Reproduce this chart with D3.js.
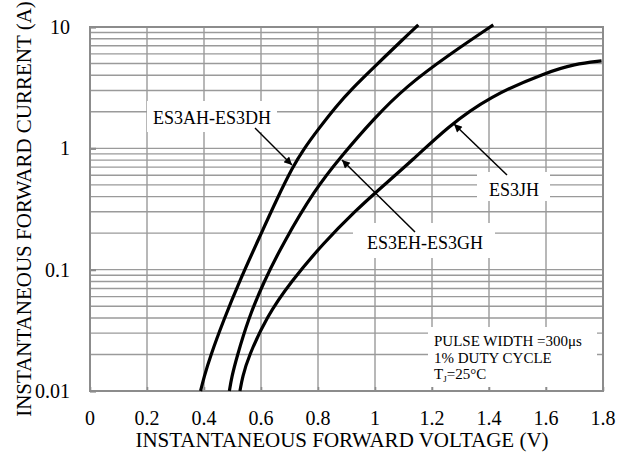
<!DOCTYPE html>
<html>
<head>
<meta charset="utf-8">
<script src="https://cdn.jsdelivr.net/npm/d3@7"></script>
<style>
  body { margin: 0; background: #fff; }
</style>
</head>
<body>
<script>
// forward characteristics
var seriesNames = ["ES3AH-ES3DH", "ES3EH-ES3GH", "ES3JH"];

var voltsA = [0.388, 0.400, 0.421, 0.468, 0.526, 0.596, 0.655, 0.713, 0.749, 0.801, 0.865, 0.918, 0.994, 1.099, 1.152];
var ampsA  = [0.010, 0.013, 0.019, 0.038, 0.082, 0.188, 0.380, 0.714, 0.980, 1.440, 2.240, 3.080, 4.600, 7.960, 10.40];

var voltsB = [0.489, 0.497, 0.515, 0.555, 0.608, 0.678, 0.789, 0.880, 0.994, 1.111, 1.263, 1.415];
var ampsB  = [0.010, 0.013, 0.019, 0.039, 0.078, 0.166, 0.458, 0.850, 1.740, 3.270, 5.980, 10.40];

var voltsC = [0.526, 0.535, 0.555, 0.620, 0.702, 0.819, 0.936, 1.010, 1.135, 1.251, 1.404, 1.602, 1.700, 1.795];
var ampsC  = [0.010, 0.013, 0.019, 0.041, 0.078, 0.166, 0.313, 0.450, 0.810, 1.480, 2.700, 4.230, 4.950, 5.260];

var xTicks = [0, 0.2, 0.4, 0.6, 0.8, 1, 1.2, 1.4, 1.6, 1.8];
var yTicks = [0.01, 0.1, 1, 10];
var yTickLabels = ["0.01", "0.1", "1", "10"];

var noteLines = ["PULSE WIDTH =300\u03bcs", "1% DUTY CYCLE"];

function drawChart() {
  var width = 631, height = 455;
  var left = 90, top = 27, right = 603, bottom = 391;

  var svg = d3.select("body").append("svg")
    .attr("width", width)
    .attr("height", height)
    .attr("font-family", "'Liberation Serif', 'Times New Roman', 'DejaVu Serif', serif");

  var x = d3.scaleLinear().domain([0, 1.8]).range([left, right]);
  var y = d3.scaleLog().domain([0.01, 10]).range([bottom, top]);

  // minor log grid values 0.01..10
  var minor = [];
  [0.01, 0.1, 1].forEach(function(d) {
    for (var k = 2; k <= 9; k++) minor.push(d * k);
  });

  var grid = svg.append("g").attr("stroke", "#9a9a9a").attr("stroke-width", 1.4);

  grid.selectAll(".hy").data(minor.concat(yTicks)).enter().append("line")
    .attr("x1", left).attr("x2", right)
    .attr("y1", function(d) { return y(d); })
    .attr("y2", function(d) { return y(d); });

  grid.selectAll(".vx").data(xTicks).enter().append("line")
    .attr("y1", top).attr("y2", bottom)
    .attr("x1", function(d) { return x(d); })
    .attr("x2", function(d) { return x(d); });

  // white boxes behind labels (grid is cut there)
  var boxes = [
    { x: 147, y: 101, w: 130, h: 31 },
    { x: 353, y: 223, w: 142, h: 35 },
    { x: 477, y: 172, w: 73, h: 29 },
    { x: 428, y: 327, w: 169, h: 60 }
  ];
  svg.selectAll(".box").data(boxes).enter().append("rect")
    .attr("x", function(d) { return d.x; })
    .attr("y", function(d) { return d.y; })
    .attr("width", function(d) { return d.w; })
    .attr("height", function(d) { return d.h; })
    .attr("fill", "#fff");

  // frame and inner ticks
  svg.append("rect")
    .attr("x", left).attr("y", top)
    .attr("width", right - left).attr("height", bottom - top)
    .attr("fill", "none")
    .attr("stroke", "#8c8c8c")
    .attr("stroke-width", 2);

  svg.append("g")
    .attr("transform", "translate(0," + bottom + ")")
    .call(d3.axisBottom(x).tickValues(xTicks).tickSize(-4).tickFormat(""))
    .call(function(g) { g.select(".domain").remove(); })
    .selectAll("line").attr("stroke", "#8c8c8c").attr("stroke-width", 1.6);

  svg.append("g")
    .attr("transform", "translate(" + left + ",0)")
    .call(d3.axisLeft(y).tickValues(yTicks).tickSize(-6).tickFormat(""))
    .call(function(g) { g.select(".domain").remove(); })
    .selectAll("line").attr("stroke", "#8c8c8c").attr("stroke-width", 2.2);

  // tick labels
  svg.selectAll(".xl").data(xTicks).enter().append("text")
    .attr("x", function(d) { return x(d); })
    .attr("y", 425)
    .attr("text-anchor", "middle")
    .attr("font-size", 20)
    .text(function(d) { return d; });

  svg.selectAll(".yl").data(yTicks).enter().append("text")
    .attr("x", 70)
    .attr("y", function(d) { return y(d); })
    .attr("dy", "0.35em")
    .attr("text-anchor", "end")
    .attr("font-size", 20)
    .text(function(d, i) { return yTickLabels[i]; });

  // axis titles
  svg.append("text")
    .attr("x", 342).attr("y", 447)
    .attr("text-anchor", "middle")
    .attr("font-size", 21)
    .text("INSTANTANEOUS FORWARD VOLTAGE (V)");

  svg.append("text")
    .attr("transform", "translate(31,209) rotate(-90)")
    .attr("text-anchor", "middle")
    .attr("font-size", 21)
    .text("INSTANTANEOUS FORWARD CURRENT (A)");

  // curves
  var line = d3.line()
    .x(function(d) { return x(d[0]); })
    .y(function(d) { return y(d[1]); })
    .curve(d3.curveBasis);

  var series = [d3.zip(voltsA, ampsA), d3.zip(voltsB, ampsB), d3.zip(voltsC, ampsC)];

  svg.selectAll(".curve").data(series).enter().append("path")
    .attr("d", line)
    .attr("fill", "none")
    .attr("stroke", "#000")
    .attr("stroke-width", 3.2);

  // arrows
  svg.append("defs").append("marker")
    .attr("id", "head")
    .attr("viewBox", "0 0 10 10")
    .attr("refX", 10).attr("refY", 5)
    .attr("markerWidth", 11).attr("markerHeight", 8)
    .attr("markerUnits", "userSpaceOnUse")
    .attr("orient", "auto")
    .append("path")
    .attr("d", "M0,0 L10,5 L0,10 Z")
    .attr("fill", "#000");

  var arrows = [
    { x1: 255, y1: 128, x2: 292, y2: 165 },
    { x1: 415, y1: 232, x2: 342, y2: 160 },
    { x1: 507, y1: 175, x2: 454, y2: 124 }
  ];
  svg.selectAll(".arrow").data(arrows).enter().append("line")
    .attr("x1", function(d) { return d.x1; })
    .attr("y1", function(d) { return d.y1; })
    .attr("x2", function(d) { return d.x2; })
    .attr("y2", function(d) { return d.y2; })
    .attr("stroke", "#000")
    .attr("stroke-width", 1.5)
    .attr("marker-end", "url(#head)");

  // series labels
  var labels = [
    { x: 212, y: 124 },
    { x: 425, y: 249 },
    { x: 514, y: 196 }
  ];
  svg.selectAll(".lab").data(labels).enter().append("text")
    .attr("x", function(d) { return d.x; })
    .attr("y", function(d) { return d.y; })
    .attr("text-anchor", "middle")
    .attr("font-size", 18)
    .text(function(d, i) { return seriesNames[i]; });

  // conditions note
  var note = svg.append("g").attr("font-size", 15);
  noteLines.forEach(function(t, i) {
    note.append("text").attr("x", 434).attr("y", 346 + i * 16.7).text(t);
  });
  var tj = note.append("text").attr("x", 434).attr("y", 379.4);
  tj.append("tspan").text("T");
  tj.append("tspan").attr("dy", 3).attr("font-size", 9).text("J");
  tj.append("tspan").attr("dy", -3).text("=25\u00b0C");
}

document.addEventListener("DOMContentLoaded", function (event) {
  drawChart();
});
</script>
</body>
</html>
